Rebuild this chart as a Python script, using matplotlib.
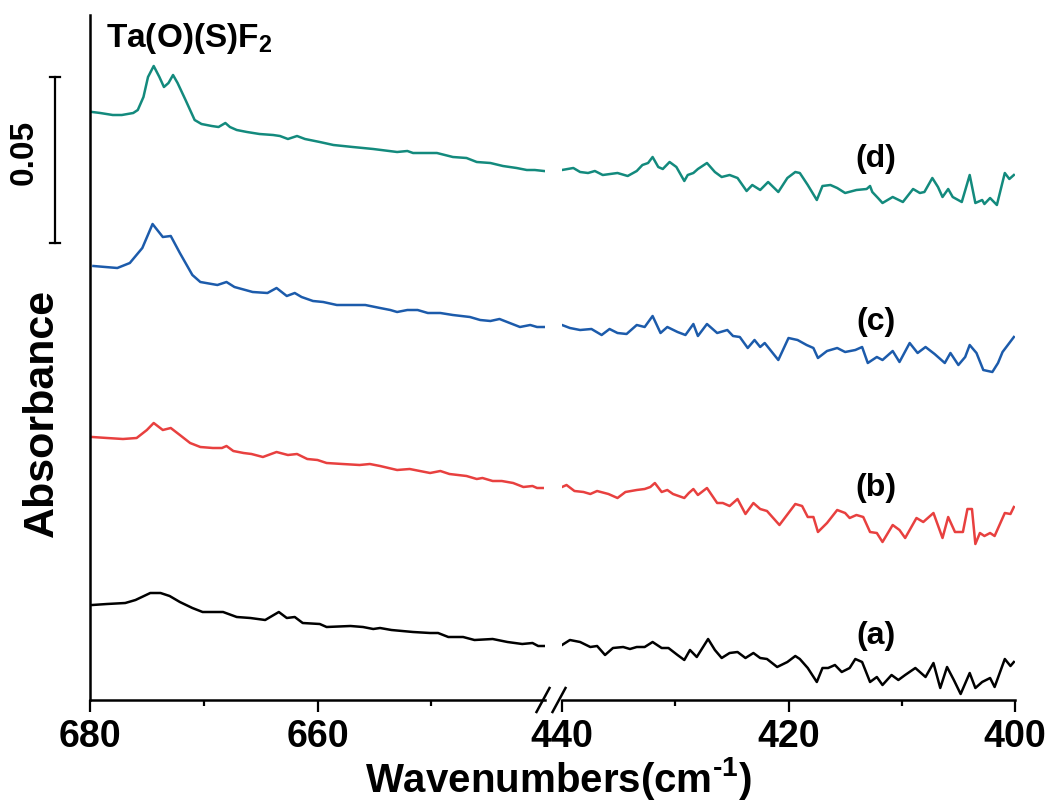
import matplotlib.pyplot as plt
import numpy as np

plt.rcParams['font.family'] = ['Liberation Sans', 'DejaVu Sans']
plt.rcParams['font.weight'] = 'bold'
plt.rcParams['mathtext.fontset'] = 'custom'
plt.rcParams['mathtext.rm'] = 'Liberation Sans:bold'
plt.rcParams['mathtext.bf'] = 'Liberation Sans:bold'
plt.rcParams['mathtext.default'] = 'rm'

# espectros IR (absorbancia con desplazamiento), dos tramos: 680-640 y 440-400 cm-1
# (a) negro
wn_hi_a = [679.8, 678.5, 676.9, 676.0, 674.7, 673.8, 673.0, 672.1, 671.0, 670.1, 668.3, 667.1,
           665.9, 664.6, 664.0, 663.4, 662.7, 662.0, 661.3, 659.8, 659.2, 657.1, 656.0, 655.1,
           654.5, 653.5, 651.6, 650.1, 649.4, 648.5, 647.2, 646.2, 644.6, 643.3, 642.0, 641.1,
           640.6, 640.1]
abs_hi_a = [0.0285, 0.0288, 0.0291, 0.0300, 0.0321, 0.0321, 0.0312, 0.0294, 0.0276, 0.0264,
            0.0264, 0.0249, 0.0246, 0.0240, 0.0252, 0.0264, 0.0246, 0.0249, 0.0231, 0.0228,
            0.0219, 0.0222, 0.0219, 0.0213, 0.0216, 0.0210, 0.0204, 0.0201, 0.0201, 0.0189,
            0.0189, 0.0180, 0.0183, 0.0174, 0.0168, 0.0171, 0.0162, 0.0162]
wn_lo_a = [440.0, 439.3, 438.4, 437.5, 436.9, 436.2, 435.5, 434.6, 434.0, 433.4, 432.7, 432.0,
           431.2, 430.6, 429.8, 429.2, 428.7, 428.1, 427.1, 426.5, 425.9, 425.2, 424.5, 423.8,
           423.1, 422.5, 421.9, 421.0, 420.1, 419.4, 419.0, 418.3, 417.5, 417.0, 416.5, 415.9,
           415.3, 414.6, 414.1, 413.5, 412.8, 412.2, 411.7, 410.9, 410.3, 409.7, 408.8, 407.9,
           407.2, 406.6, 406.0, 405.4, 404.8, 404.0, 403.5, 402.9, 402.2, 401.8, 400.9, 400.4,
           400.1]
abs_lo_a = [0.0165, 0.0180, 0.0174, 0.0159, 0.0162, 0.0135, 0.0156, 0.0159, 0.0153, 0.0159,
            0.0159, 0.0174, 0.0156, 0.0156, 0.0135, 0.0120, 0.0150, 0.0129, 0.0183, 0.0150,
            0.0126, 0.0141, 0.0144, 0.0126, 0.0141, 0.0126, 0.0123, 0.0099, 0.0114, 0.0132,
            0.0123, 0.0096, 0.0054, 0.0096, 0.0096, 0.0105, 0.0084, 0.0096, 0.0123, 0.0114,
            0.0054, 0.0069, 0.0045, 0.0075, 0.0060, 0.0075, 0.0096, 0.0069, 0.0111, 0.0036,
            0.0099, 0.0060, 0.0018, 0.0081, 0.0036, 0.0054, 0.0066, 0.0039, 0.0123, 0.0102,
            0.0114]

# (b) rojo
wn_hi_b = [679.8, 678.5, 677.1, 675.9, 675.0, 674.4, 673.6, 672.9, 672.1, 671.2, 670.3, 669.2,
           668.4, 668.0, 667.4, 666.5, 665.8, 664.8, 663.6, 662.6, 661.8, 660.9, 660.0, 659.2,
           657.8, 656.3, 655.4, 654.5, 653.0, 651.9, 651.0, 650.1, 649.2, 648.4, 646.9, 646.0,
           645.5, 644.6, 643.8, 642.8, 641.9, 641.1, 640.7, 640.2]
abs_hi_b = [0.0789, 0.0786, 0.0783, 0.0786, 0.0810, 0.0831, 0.0810, 0.0816, 0.0795, 0.0771,
            0.0759, 0.0756, 0.0756, 0.0762, 0.0747, 0.0741, 0.0738, 0.0729, 0.0744, 0.0735,
            0.0738, 0.0723, 0.0720, 0.0711, 0.0708, 0.0705, 0.0708, 0.0702, 0.0690, 0.0693,
            0.0687, 0.0681, 0.0687, 0.0678, 0.0672, 0.0663, 0.0666, 0.0657, 0.0657, 0.0651,
            0.0639, 0.0642, 0.0636, 0.0636]
wn_lo_b = [440.0, 439.6, 438.9, 438.1, 437.5, 436.9, 435.9, 435.1, 434.4, 433.4, 432.7, 432.2,
           431.8, 431.2, 430.7, 430.2, 429.2, 428.8, 428.4, 428.0, 427.2, 426.3, 425.8, 425.2,
           424.5, 423.8, 423.1, 422.5, 421.9, 420.8, 419.4, 418.8, 418.3, 417.8, 417.4, 416.6,
           415.7, 415.0, 414.6, 414.0, 413.4, 412.8, 412.2, 411.7, 410.8, 410.2, 409.7, 408.7,
           408.1, 407.2, 406.4, 405.9, 405.3, 404.6, 404.2, 403.8, 403.5, 403.1, 402.7, 402.2,
           401.8, 400.9, 400.4, 400.1]
abs_lo_b = [0.0639, 0.0645, 0.0627, 0.0624, 0.0618, 0.0627, 0.0618, 0.0606, 0.0624, 0.0630,
            0.0633, 0.0639, 0.0651, 0.0624, 0.0630, 0.0618, 0.0606, 0.0621, 0.0633, 0.0615,
            0.0636, 0.0591, 0.0591, 0.0582, 0.0603, 0.0558, 0.0591, 0.0573, 0.0567, 0.0525,
            0.0588, 0.0582, 0.0549, 0.0549, 0.0504, 0.0531, 0.0570, 0.0561, 0.0546, 0.0555,
            0.0549, 0.0504, 0.0501, 0.0474, 0.0525, 0.0510, 0.0486, 0.0546, 0.0534, 0.0561,
            0.0486, 0.0549, 0.0504, 0.0504, 0.0573, 0.0573, 0.0468, 0.0501, 0.0492, 0.0501,
            0.0492, 0.0561, 0.0558, 0.0579]

# (c) azul
wn_hi_c = [679.7, 677.6, 676.5, 675.4, 674.5, 673.6, 672.9, 672.1, 671.0, 670.3, 668.8, 668.0,
           667.3, 665.7, 664.4, 663.6, 662.7, 662.0, 661.4, 660.4, 659.5, 658.3, 657.1, 655.8,
           654.5, 653.6, 653.0, 652.1, 651.2, 650.3, 649.2, 648.1, 646.6, 645.7, 644.8, 644.0,
           643.1, 642.2, 641.3, 640.7, 640.1]
abs_hi_c = [0.1302, 0.1296, 0.1311, 0.1356, 0.1428, 0.1389, 0.1392, 0.1341, 0.1275, 0.1254,
            0.1245, 0.1254, 0.1239, 0.1224, 0.1221, 0.1236, 0.1212, 0.1221, 0.1209, 0.1197,
            0.1194, 0.1185, 0.1185, 0.1185, 0.1176, 0.1170, 0.1164, 0.1170, 0.1170, 0.1161,
            0.1161, 0.1155, 0.1149, 0.1140, 0.1137, 0.1143, 0.1131, 0.1119, 0.1125, 0.1119,
            0.1119]
wn_lo_c = [440.0, 439.3, 438.4, 437.4, 436.5, 435.8, 435.1, 434.3, 433.4, 432.7, 432.0, 431.3,
           430.7, 429.8, 429.1, 428.4, 428.0, 427.2, 426.3, 425.4, 424.9, 424.3, 423.6, 423.0,
           422.5, 422.1, 420.9, 420.0, 419.2, 418.4, 417.8, 417.4, 416.6, 415.7, 415.0, 414.1,
           413.5, 413.0, 412.2, 411.7, 410.8, 410.2, 409.3, 408.6, 407.9, 407.1, 406.2, 405.7,
           405.0, 404.4, 404.0, 403.4, 402.8, 402.0, 401.5, 401.1, 400.1]
abs_lo_c = [0.1125, 0.1116, 0.1110, 0.1113, 0.1095, 0.1113, 0.1101, 0.1098, 0.1125, 0.1119,
            0.1152, 0.1101, 0.1119, 0.1104, 0.1095, 0.1128, 0.1092, 0.1128, 0.1101, 0.1110,
            0.1092, 0.1089, 0.1056, 0.1080, 0.1059, 0.1071, 0.1020, 0.1086, 0.1080, 0.1065,
            0.1056, 0.1026, 0.1047, 0.1056, 0.1044, 0.1050, 0.1059, 0.1011, 0.1029, 0.1020,
            0.1047, 0.1014, 0.1071, 0.1041, 0.1059, 0.1038, 0.1011, 0.1041, 0.1005, 0.1029,
            0.1065, 0.1041, 0.0990, 0.0984, 0.1011, 0.1044, 0.1089]

# (d) verde azulado
wn_hi_d = [679.8, 679.1, 678.0, 677.2, 676.2, 675.8, 675.3, 674.9, 674.4, 673.9, 673.5, 673.1,
           672.7, 672.3, 671.6, 670.8, 670.2, 669.3, 668.7, 668.1, 667.7, 667.1, 666.2, 665.1,
           663.9, 663.3, 662.6, 661.8, 661.1, 659.8, 658.6, 656.9, 655.1, 653.0, 652.1, 651.6,
           649.5, 648.1, 646.9, 646.0, 644.8, 643.7, 642.5, 641.6, 640.9, 640.1]
abs_hi_d = [0.1764, 0.1761, 0.1755, 0.1755, 0.1761, 0.1770, 0.1809, 0.1869, 0.1902, 0.1869,
            0.1839, 0.1851, 0.1875, 0.1851, 0.1800, 0.1740, 0.1728, 0.1722, 0.1719, 0.1731,
            0.1719, 0.1710, 0.1704, 0.1698, 0.1695, 0.1692, 0.1683, 0.1692, 0.1683, 0.1674,
            0.1665, 0.1659, 0.1653, 0.1644, 0.1647, 0.1641, 0.1641, 0.1629, 0.1626, 0.1614,
            0.1611, 0.1602, 0.1596, 0.1590, 0.1590, 0.1587]
wn_lo_d = [440.0, 439.0, 438.4, 437.7, 437.1, 436.4, 435.1, 434.2, 433.4, 432.9, 432.4, 432.0,
           431.5, 431.1, 430.5, 429.9, 429.2, 428.9, 428.4, 428.0, 427.2, 426.5, 425.9, 425.2,
           424.5, 423.7, 423.2, 422.5, 421.8, 420.9, 420.1, 419.4, 419.0, 418.3, 417.5, 417.0,
           416.3, 415.7, 415.0, 414.0, 413.1, 412.8, 412.6, 412.1, 411.7, 410.8, 409.9, 409.0,
           408.4, 408.0, 407.3, 406.8, 406.4, 405.9, 405.5, 404.7, 404.0, 403.5, 402.9, 402.7,
           402.2, 401.6, 400.9, 400.5, 400.1]
abs_lo_d = [0.1590, 0.1596, 0.1584, 0.1581, 0.1587, 0.1575, 0.1581, 0.1572, 0.1587, 0.1605,
            0.1611, 0.1629, 0.1599, 0.1593, 0.1614, 0.1599, 0.1557, 0.1575, 0.1581, 0.1593,
            0.1611, 0.1584, 0.1569, 0.1575, 0.1566, 0.1527, 0.1545, 0.1530, 0.1554, 0.1524,
            0.1566, 0.1584, 0.1581, 0.1545, 0.1500, 0.1542, 0.1545, 0.1536, 0.1521, 0.1530,
            0.1533, 0.1542, 0.1524, 0.1506, 0.1491, 0.1509, 0.1494, 0.1533, 0.1521, 0.1524,
            0.1566, 0.1539, 0.1509, 0.1533, 0.1509, 0.1494, 0.1575, 0.1491, 0.1500, 0.1488,
            0.1506, 0.1485, 0.1581, 0.1563, 0.1575]

series = [
    ('(a)', '#000000', wn_hi_a, abs_hi_a, wn_lo_a, abs_lo_a, 0.0192),
    ('(b)', '#e8403f', wn_hi_b, abs_hi_b, wn_lo_b, abs_lo_b, 0.0636),
    ('(c)', '#1c5bab', wn_hi_c, abs_hi_c, wn_lo_c, abs_lo_c, 0.1134),
    ('(d)', '#138a7d', wn_hi_d, abs_hi_d, wn_lo_d, abs_lo_d, 0.1623),
]

W, H = 1052, 805
fig = plt.figure(figsize=(W / 100, H / 100), dpi=100)
bottom = (H - 700) / H
height = 685 / H
ax1 = fig.add_axes([90 / W, bottom, 455 / W, height])
ax2 = fig.add_axes([562 / W, bottom, 453 / W, height])

ymax = 0.2055
for lab, col, xh, yh, xl, yl, ylab in series:
    ax1.plot(xh, yh, color=col, lw=1.8)
    ax2.plot(xl, yl, color=col, lw=1.8)
    ax2.text(412.3, ylab, lab, fontsize=23, fontweight='bold', ha='center', va='center')

ax1.set_xlim(680, 640)
ax2.set_xlim(440, 400)
for ax in (ax1, ax2):
    ax.set_ylim(0, ymax)
    ax.set_yticks([])
    ax.spines['top'].set_visible(False)
    ax.spines['right'].set_visible(False)
    ax.spines['bottom'].set_linewidth(1.8)
    ax.tick_params(axis='x', which='major', direction='out', length=8.5, width=1.6,
                   labelsize=27, pad=5)
    ax.tick_params(axis='x', which='minor', direction='out', length=4, width=1.6)
    ax.patch.set_alpha(0)
ax1.spines['left'].set_linewidth(1.8)
ax2.spines['left'].set_visible(False)
ax1.set_xticks([680, 660])
ax1.set_xticks([670, 650], minor=True)
ax2.set_xticks([440, 420, 400])
ax2.set_xticks([430, 410], minor=True)
for ax in (ax1, ax2):
    for t in ax.get_xticklabels():
        t.set_fontweight('bold')

# marcas de corte del eje
for cx in (543, 559):
    fig.add_artist(plt.Line2D([(cx - 6.5) / W, (cx + 6.5) / W],
                              [(H - 712) / H, (H - 688) / H],
                              color='black', lw=1.8, transform=fig.transFigure))

# barra de escala 0.05
bx = -0.077
ax1.plot([bx, bx], [0.137, 0.187], color='black', lw=1.6,
         transform=ax1.get_yaxis_transform(), clip_on=False)
for yb in (0.137, 0.187):
    ax1.plot([bx - 0.012, bx + 0.012], [yb, yb], color='black', lw=1.6,
             transform=ax1.get_yaxis_transform(), clip_on=False)
fig.text(24 / W, 1 - 152 / H, '0.05', rotation=90, fontsize=24, fontweight='bold',
         ha='center', va='center')

fig.text(42 / W, 1 - 413 / H, 'Absorbance', rotation=90, fontsize=31, fontweight='bold',
         ha='center', va='center')
fig.text(558 / W, 1 - 792 / H, r'Wavenumbers(cm$^{\text{-1}}$)', fontsize=29,
         fontweight='bold', ha='center', va='baseline')
fig.text(106 / W, 1 - 47 / H, r'Ta(O)(S)F$_{\mathbf{2}}$', fontsize=24, fontweight='bold',
         ha='left', va='baseline')

fig.savefig('out.png', dpi=100)
